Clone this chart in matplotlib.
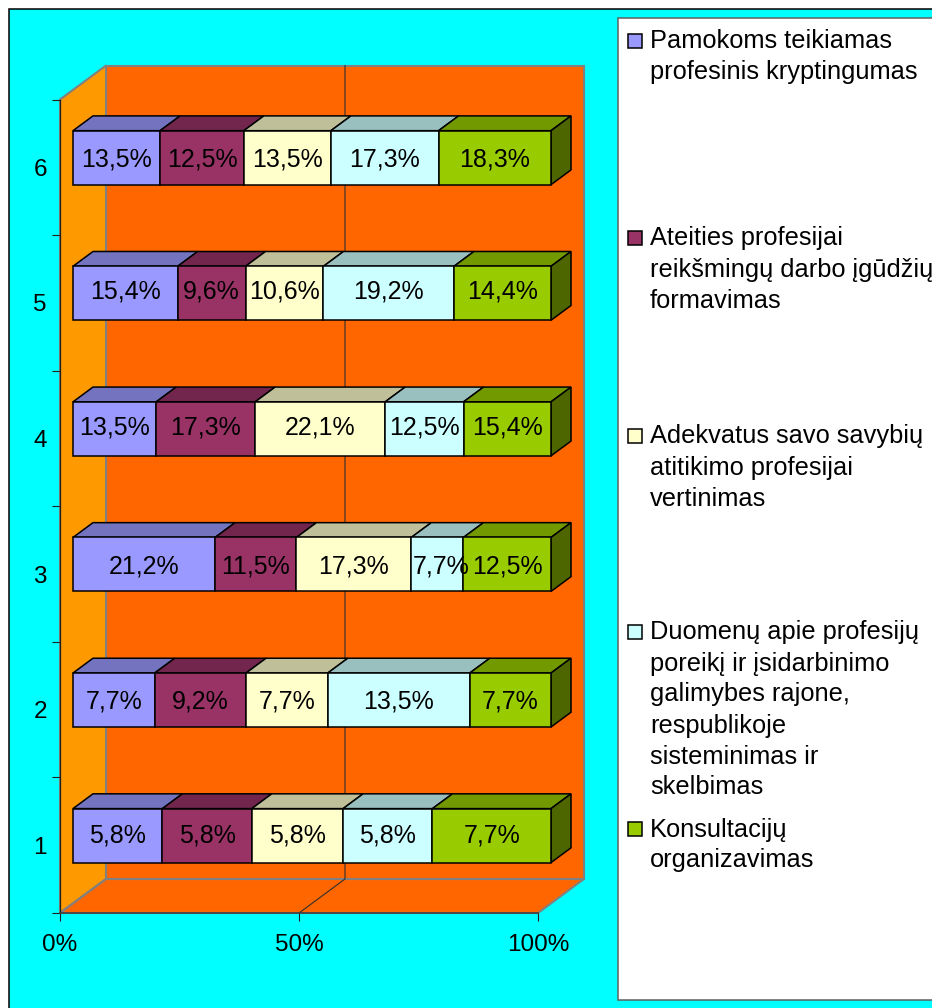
import numpy as np
import matplotlib
matplotlib.use("Agg")
import matplotlib.pyplot as plt
from matplotlib.patches import Rectangle

plt.rcParams["font.family"] = ["Liberation Sans", "DejaVu Sans"]

W, H = 932, 1008

categories = [1, 2, 3, 4, 5, 6]

# printed data labels
pamokoms = [5.8, 7.7, 21.2, 13.5, 15.4, 13.5]
ateities = [5.8, 9.2, 11.5, 17.3, 9.6, 12.5]
adekvatus = [5.8, 7.7, 17.3, 22.1, 10.6, 13.5]
duomenu = [5.8, 13.5, 7.7, 12.5, 19.2, 17.3]
konsultaciju = [7.7, 7.7, 12.5, 15.4, 14.4, 18.3]

# segment lengths (% of the bar), they do not
# follow the printed labels exactly
pamokoms_len = [18.7, 17.1, 29.7, 17.4, 21.9, 18.2]
ateities_len = [18.7, 19.1, 17.0, 20.7, 14.2, 17.5]
adekvatus_len = [19.1, 17.1, 24.0, 27.2, 16.3, 18.2]
duomenu_len = [18.7, 29.7, 10.9, 16.4, 27.3, 22.5]
konsultaciju_len = [24.8, 17.0, 18.3, 18.3, 20.3, 23.5]

series = [pamokoms, ateities, adekvatus, duomenu, konsultaciju]
lengths = [pamokoms_len, ateities_len, adekvatus_len, duomenu_len, konsultaciju_len]
colors = ["#9999FF", "#993366", "#FFFFCC", "#CCFFFF", "#99CC00"]
xticks = [0, 50, 100]
xticklabels = ["0%", "50%", "100%"]

legend_lines = [
    ["Pamokoms teikiamas", "profesinis kryptingumas"],
    ["Ateities profesijai", "reikšmingų darbo įgūdžių", "formavimas"],
    ["Adekvatus savo savybių", "atitikimo profesijai", "vertinimas"],
    ["Duomenų apie profesijų", "poreikį ir įsidarbinimo", "galimybes rajone,",
     "respublikoje", "sisteminimas ir", "skelbimas"],
    ["Konsultacijų", "organizavimas"],
]
legend_y = [39, 236, 434, 630, 827]

# depth of the 3D box in data units
DEPTH_X = 46 / 478 * 100
DEPTH_Y = 34 / 135.6
BAR_D0, BAR_D1 = 13 / 46, 33 / 46
BAR_H = 54 / 135.6
PX_Y = 1 / 135.6
PX_X = 100 / 478

# labels sit a little above the middle in some rows
label_up_px = [2.5, 1, 0.5, 4, 4, 1]
label_nudge_px = {(3, 2): 4}


def shade(color, k):
    r, g, b = matplotlib.colors.to_rgb(color)
    return (r * k, g * k, b * k)


def face(ax, pts, **kw):
    # pts are (x, y, depth), depth 0 = front, 1 = back wall
    xs = [p[0] + p[2] * DEPTH_X for p in pts]
    ys = [p[1] + p[2] * DEPTH_Y for p in pts]
    ax.fill(xs, ys, clip_on=False, **kw)


fig = plt.figure(figsize=(W / 100, H / 100), dpi=100, facecolor="white")


def px_text(x, y, s, **kw):
    fig.text(x / W, 1 - y / H, s, **kw)


def px_rect(x0, y0, x1, y1, **kw):
    fig.add_artist(Rectangle((x0 / W, 1 - y1 / H), (x1 - x0) / W, (y1 - y0) / H,
                             transform=fig.transFigure, **kw))


# background and legend box
px_rect(9, 9, W + 5, H + 5, facecolor="#00FFFF", edgecolor="black", linewidth=1.1, zorder=-2)
px_rect(618, 18, W + 5, 1000, facecolor="white", edgecolor="#606060", linewidth=1.1, zorder=-1)

ax = fig.add_axes([60 / W, 1 - 913 / H, 478 / W, 813.5 / H])
ax.patch.set_visible(False)
ax.set_xlim(0, 100)
ax.set_ylim(0.5, 6.5)
for sp in ax.spines.values():
    sp.set_visible(False)

wall = dict(edgecolor="#808080", linewidth=1.5, joinstyle="miter")
y0, y1 = 0.5, 6.5
face(ax, [(0, y0, 1), (100, y0, 1), (100, y1, 1), (0, y1, 1)], facecolor="#FF6600", zorder=1, **wall)
face(ax, [(0, y0, 0), (0, y0, 1), (0, y1, 1), (0, y1, 0)], facecolor="#FF9900", zorder=1, **wall)
face(ax, [(0, y0, 0), (100, y0, 0), (100, y0, 1), (0, y0, 1)], facecolor="#FF6600", zorder=1, **wall)

# 50% gridline on floor and back wall
ax.plot([50, 50 + DEPTH_X, 50 + DEPTH_X],
        [y0, y0 + DEPTH_Y, y1 + DEPTH_Y],
        color="#303030", lw=0.8, clip_on=False, zorder=2)
# axis lines
ax.plot([0, 0], [y0, y1], color="#202020", lw=0.9, clip_on=False, zorder=3)
ax.plot([0, 100], [y0, y0], color="#404040", lw=1.2, clip_on=False, zorder=3)

edge = dict(edgecolor="black", linewidth=1.1, joinstyle="miter")
values = np.array(series)
seg_len = np.array(lengths)
for i, cat in enumerate(categories):
    total = seg_len[:, i].sum()
    # bar sits in the middle of the depth, so shift the front plane up
    lo = cat - BAR_H / 2
    hi = cat + BAR_H / 2
    left = 0.0
    for s in range(len(series)):
        v = values[s, i]
        right = left + seg_len[s, i] / total * 100
        x0 = left + BAR_D0 * DEPTH_X
        x1 = right + BAR_D0 * DEPTH_X
        ylo = lo + BAR_D0 * DEPTH_Y
        yhi = hi + BAR_D0 * DEPTH_Y
        dd = BAR_D1 - BAR_D0
        face(ax, [(x0, yhi, 0), (x1, yhi, 0), (x1, yhi, dd), (x0, yhi, dd)],
             facecolor=shade(colors[s], 0.75), zorder=4, **edge)
        if s == len(series) - 1:
            face(ax, [(x1, ylo, 0), (x1, yhi, 0), (x1, yhi, dd), (x1, ylo, dd)],
                 facecolor=shade(colors[s], 0.5), zorder=4, **edge)
        face(ax, [(x0, ylo, 0), (x1, ylo, 0), (x1, yhi, 0), (x0, yhi, 0)],
             facecolor=colors[s], zorder=5, **edge)
        tx = (x0 + x1) / 2 + label_nudge_px.get((s, i), 0) * PX_X
        ty = (ylo + yhi) / 2 + label_up_px[i] * PX_Y
        ax.text(tx, ty, f"{v:.1f}".replace(".", ",") + "%",
                ha="center", va="center_baseline", fontsize=18, color="black", zorder=6)
        left = right

ax.set_xticks(xticks)
ax.set_xticklabels(xticklabels, fontsize=17.5)
ax.tick_params(axis="x", length=5.8, width=0.8, pad=9, color="#202020")
ax.set_yticks(np.arange(0.5, 7, 1))
ax.set_yticklabels([])
ax.tick_params(axis="y", which="major", length=5.8, width=0.8, color="#202020")
ax.set_yticks(categories, minor=True)
ax.set_yticklabels([str(c) for c in categories], minor=True, fontsize=17.5)
ax.tick_params(axis="y", which="minor", length=0, pad=9.5)

# legend
LINE = 31
for lines, y, c in zip(legend_lines, legend_y, colors):
    px_rect(628, y - 5, 642, y + 9, facecolor=c, edgecolor="black", linewidth=1.1)
    for j, line in enumerate(lines):
        px_text(650, y + j * LINE, line, fontsize=18.3, va="center_baseline", ha="left")

fig.savefig("out.png", dpi=100)
